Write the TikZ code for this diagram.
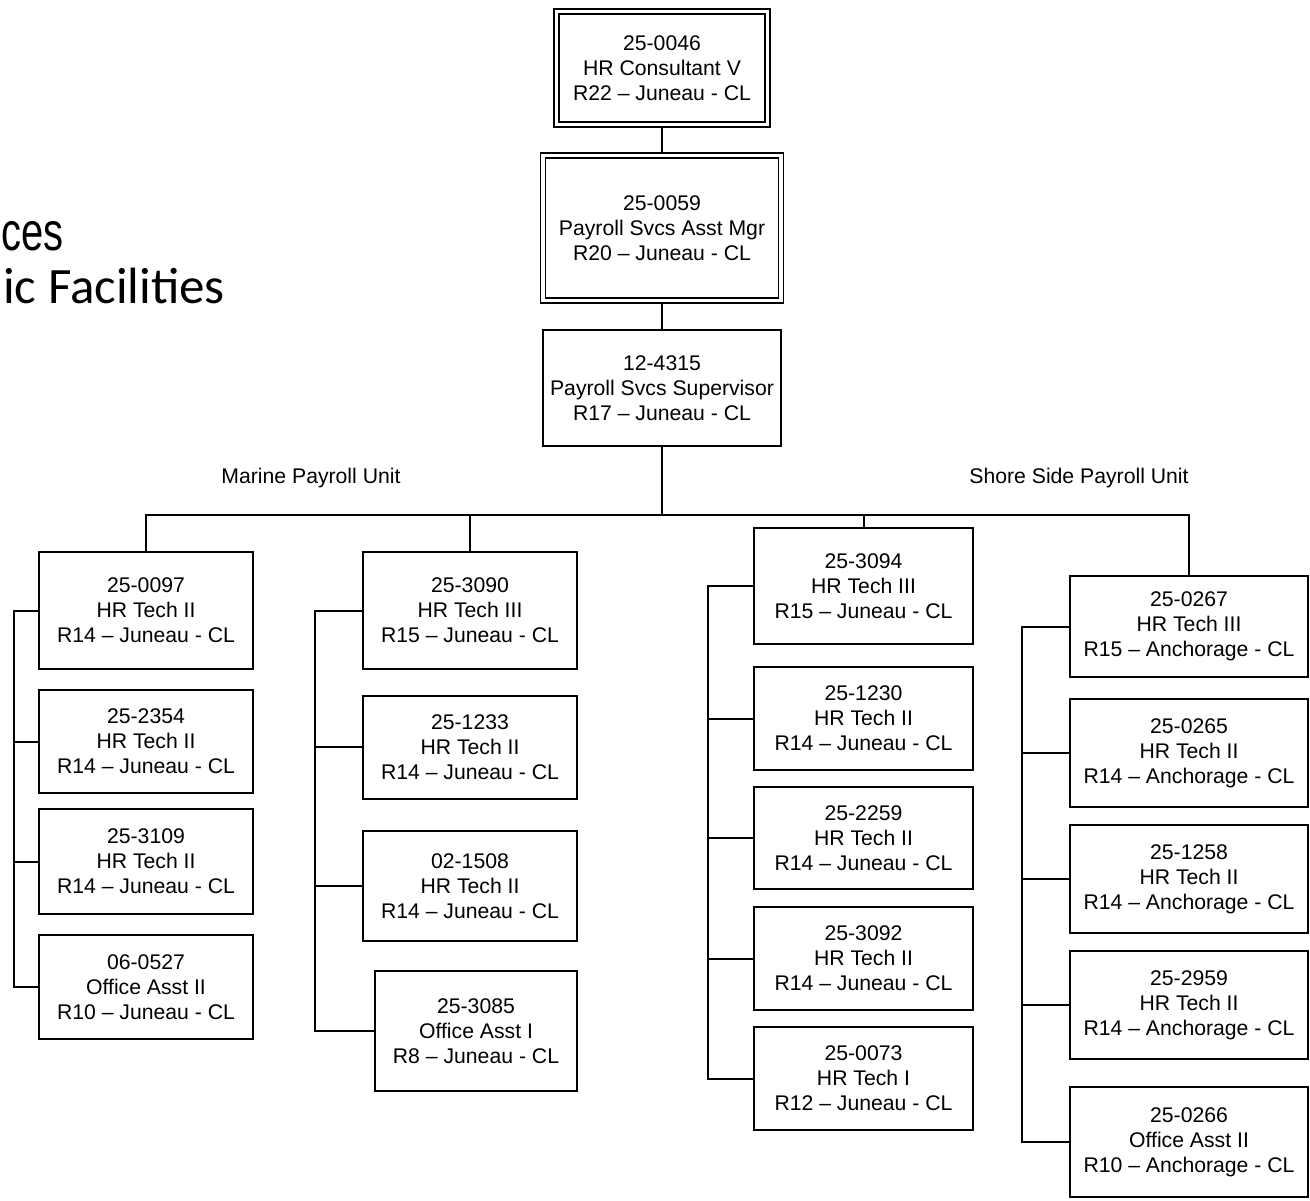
\documentclass[tikz,border=0pt]{standalone}
\usepackage{fontspec}
\setmainfont{Liberation Sans}
\newfontfamily\titlefont{Carlito}
\usetikzlibrary{calc}
\tikzset{
 posbox/.style={draw, outer sep=0pt, align=center, font=\fontsize{10.6}{12.5}\selectfont},
 headbox/.style={double, line width=0.9pt, double distance=1.6pt, outer sep=1.7pt},
 unitlabel/.style={font=\fontsize{10.6}{12.5}\selectfont}
}
\newcommand{\pcnbox}[6][]{
 \node[posbox, #1, minimum width=#4pt, minimum height=#5pt] (#2) at #3 {#6};
}

\begin{document}
\begin{tikzpicture}[x=0.5pt, y=-0.5pt, line width=1pt]
 \useasboundingbox (0,0) rectangle (1310,1200);
%
 \node[anchor=base west, inner sep=0pt, xscale=0.74, font=\fontsize{27}{30}\selectfont] (svc) at (1,250) {ces};
 \node[anchor=base east, inner sep=0pt, font=\titlefont\fontsize{25.5}{30}\selectfont] (fac) at (226,303) {ic Facilities};
%
 \pcnbox[headbox]{top}{(662,68)}{105.5}{56.5}{25-0046\\HR Consultant V\\R22 – Juneau - CL}
 \pcnbox[headbox]{mgr}{(662,228)}{119}{72.5}{25-0059\\Payroll Svcs Asst Mgr\\R20 – Juneau - CL}
 \pcnbox{sup}{(662,388)}{119}{58}{12-4315\\Payroll Svcs Supervisor\\R17 – Juneau - CL}
 \draw (top) -- (mgr) -- (sup);
%
 \node[unitlabel] (marine) at (311,478) {Marine Payroll Unit};
 \node[unitlabel] (shore) at (1079,478) {Shore Side Payroll Unit};
%
 \pcnbox{a1}{(146,610.5)}{107}{58.5}{25-0097\\HR Tech II\\R14 – Juneau - CL}
 \pcnbox{a2}{(146,741.5)}{107}{51.5}{25-2354\\HR Tech II\\R14 – Juneau - CL}
 \pcnbox{a3}{(146,861.5)}{107}{52.5}{25-3109\\HR Tech II\\R14 – Juneau - CL}
 \pcnbox{a4}{(146,987)}{107}{52}{06-0527\\Office Asst II\\R10 – Juneau - CL}
%
 \pcnbox{b1}{(470,610.5)}{107}{58.5}{25-3090\\HR Tech III\\R15 – Juneau - CL}
 \pcnbox{b2}{(470,747)}{107}{51.5}{25-1233\\HR Tech II\\R14 – Juneau - CL}
 \pcnbox{b3}{(470,886)}{107}{55}{02-1508\\HR Tech II\\R14 – Juneau - CL}
 \pcnbox{b4}{(476,1031)}{101}{60}{25-3085\\Office Asst I\\R8 – Juneau - CL}
%
 \pcnbox{c1}{(863.5,586)}{109.5}{58}{25-3094\\HR Tech III\\R15 – Juneau - CL}
 \pcnbox{c2}{(863.5,718.5)}{109.5}{51.5}{25-1230\\HR Tech II\\R14 – Juneau - CL}
 \pcnbox{c3}{(863.5,838)}{109.5}{51}{25-2259\\HR Tech II\\R14 – Juneau - CL}
 \pcnbox{c4}{(863.5,958.5)}{109.5}{51.5}{25-3092\\HR Tech II\\R14 – Juneau - CL}
 \pcnbox{c5}{(863.5,1078.5)}{109.5}{51.5}{25-0073\\HR Tech I\\R12 – Juneau - CL}
%
 \pcnbox{d1}{(1189,626.5)}{119}{50.5}{25-0267\\HR Tech III\\R15 – Anchorage - CL}
 \pcnbox{d2}{(1189,753)}{119}{54}{25-0265\\HR Tech II\\R14 – Anchorage - CL}
 \pcnbox{d3}{(1189,879)}{119}{54}{25-1258\\HR Tech II\\R14 – Anchorage - CL}
 \pcnbox{d4}{(1189,1005)}{119}{54}{25-2959\\HR Tech II\\R14 – Anchorage - CL}
 \pcnbox{d5}{(1189,1142)}{119}{55}{25-0266\\Office Asst II\\R10 – Anchorage - CL}
%
 \coordinate (bus) at (662,515);
 \draw (sup) -- (bus);
 \draw (a1.north) |- (bus) -| (d1.north);
 \draw (b1.north) -- (b1.north |- bus);
 \draw (c1.north) -- (c1.north |- bus);
%
 \coordinate (aspine) at (14,0);
 \coordinate (bspine) at (315,0);
 \coordinate (cspine) at (708,0);
 \coordinate (dspine) at (1022,0);
 \draw (a1.west) -- (a1.west -| aspine) |- (a4.west);
 \draw (b1.west) -- (b1.west -| bspine) |- (b4.west);
 \draw (c1.west) -- (c1.west -| cspine) |- (c5.west);
 \draw (d1.west) -- (d1.west -| dspine) |- (d5.west);
 \foreach \n in {a2,a3} \draw (\n.west) -- (\n.west -| aspine);
 \foreach \n in {b2,b3} \draw (\n.west) -- (\n.west -| bspine);
 \foreach \n in {c2,c3,c4} \draw (\n.west) -- (\n.west -| cspine);
 \foreach \n in {d2,d3,d4} \draw (\n.west) -- (\n.west -| dspine);
\end{tikzpicture}
\end{document}
